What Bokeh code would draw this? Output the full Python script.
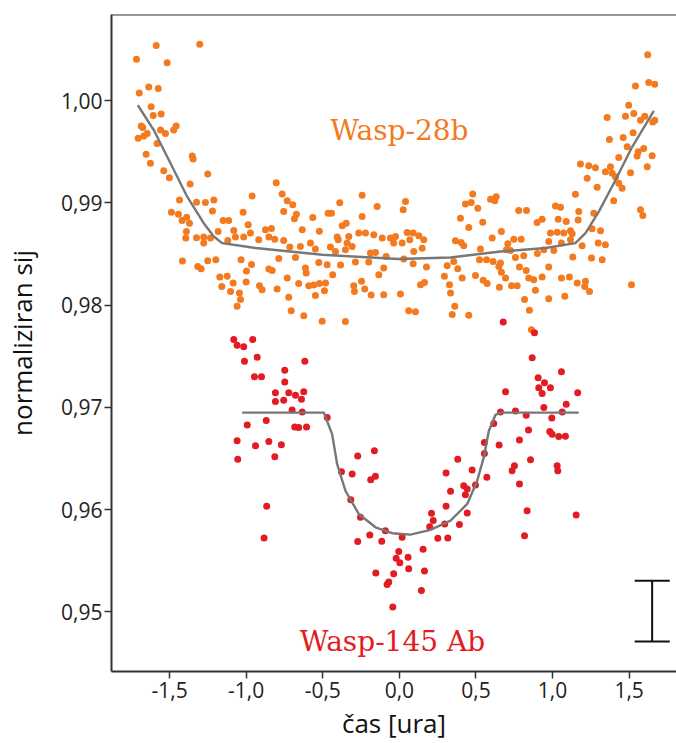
from bokeh.plotting import figure
from bokeh.models import Range1d, FixedTicker, Span, CustomJSTickFormatter, ColumnDataSource
from bokeh.embed import file_html
from bokeh.resources import INLINE
from bokeh.core.properties import value

# ---------------- data ----------------
wasp28_left = [(-1.587,1.00539),(-1.303,1.00549),(-1.716,1.00403),(-1.516,1.00370),(-1.698,1.00074),(-1.636,1.00133),(-1.574,1.00117),(-1.620,0.99938),(-1.607,0.99854),(-1.555,0.99869),(-1.685,0.99752),(-1.675,0.99737),(-1.705,0.99630),(-1.668,0.99652),(-1.646,0.99678),(-1.559,0.99711),(-1.527,0.99678),(-1.473,0.99711),(-1.457,0.99752),(-1.581,0.99581),(-1.653,0.99474),(-1.625,0.99386),(-1.352,0.99457),(-1.346,0.99428),(-1.538,0.99314),(-1.501,0.99246),(-1.251,0.99282),(-1.366,0.99184),(-1.435,0.99028),(-1.324,0.99006),(-1.266,0.99002),(-1.211,0.99028),(-0.961,0.99067),(-1.488,0.98908),(-1.442,0.98889),(-1.388,0.98860),(-1.418,0.98827),(-1.370,0.98801),(-1.220,0.98921),(-1.020,0.98908),(-1.150,0.98827),(-1.114,0.98827),(-0.987,0.98785),(-1.390,0.98719),(-1.394,0.98655),(-1.324,0.98658),(-1.277,0.98665),(-1.233,0.98655),(-1.277,0.98606),(-1.183,0.98719),(-1.081,0.98729),(-1.070,0.98665),(-1.120,0.98632),(-1.016,0.98665),(-0.972,0.98704),(-1.416,0.98431),(-1.316,0.98378),(-1.294,0.98356),(-1.251,0.98434),(-1.198,0.98443),(-1.033,0.98443),(-0.965,0.98398),(-0.998,0.98333),(-1.172,0.98275),(-1.124,0.98281),(-1.159,0.98183),(-1.102,0.98134),(-1.085,0.98216),(-1.000,0.98226),(-1.044,0.98119),(-1.037,0.98054),(-1.059,0.97988)]

wasp28_midleft = [(-0.804,0.99197),(-0.765,0.99087),(-0.732,0.99021),(-0.696,0.98980),(-0.755,0.98914),(-0.672,0.98889),(-0.685,0.98843),(-0.874,0.98736),(-0.835,0.98749),(-0.918,0.98638),(-0.852,0.98665),(-0.813,0.98645),(-0.755,0.98632),(-0.634,0.98736),(-0.565,0.98856),(-0.522,0.98723),(-0.465,0.98899),(-0.443,0.98899),(-0.389,0.99000),(-0.243,0.99074),(-0.145,0.98963),(-0.243,0.98866),(-0.347,0.98801),(-0.373,0.98775),(-0.330,0.98671),(-0.406,0.98665),(-0.399,0.98638),(-0.265,0.98704),(-0.221,0.98704),(-0.167,0.98687),(-0.112,0.98655),(-0.058,0.98655),(-0.037,0.98606),(-0.025,0.98671),(-0.715,0.98567),(-0.646,0.98573),(-0.580,0.98606),(-0.548,0.98548),(-0.450,0.98567),(-0.417,0.98524),(-0.352,0.98541),(-0.308,0.98573),(-0.341,0.98606),(-0.189,0.98509),(-0.156,0.98515),(-0.086,0.98476),(-0.787,0.98456),(-0.678,0.98466),(-0.526,0.98417),(-0.471,0.98395),(-0.384,0.98392),(-0.287,0.98421),(-0.200,0.98421),(-0.852,0.98353),(-0.830,0.98339),(-0.613,0.98363),(-0.608,0.98314),(-0.435,0.98297),(-0.102,0.98363),(-0.134,0.98297),(-0.732,0.98265),(-0.657,0.98210),(-0.591,0.98190),(-0.559,0.98197),(-0.522,0.98210),(-0.482,0.98216),(-0.913,0.98190),(-0.896,0.98151),(-0.798,0.98158),(-0.489,0.98141),(-0.548,0.98093),(-0.298,0.98190),(-0.293,0.98134),(-0.247,0.98232),(-0.226,0.98158),(-0.184,0.98099),(-0.102,0.98102),(-0.722,0.98076),(-0.706,0.97946),(-0.624,0.97897),(-0.504,0.97842),(-0.352,0.97839)]

wasp28_midright = [(0.040,0.99012),(0.025,0.98931),(0.479,0.99087),(0.431,0.98989),(0.469,0.99002),(0.512,0.98947),(0.595,0.99035),(0.632,0.99060),(0.623,0.99019),(0.779,0.98924),(0.830,0.98924),(0.399,0.98850),(0.453,0.98758),(0.544,0.98811),(0.899,0.98807),(0.932,0.98840),(0.666,0.98719),(0.606,0.98655),(0.051,0.98710),(0.090,0.98704),(0.127,0.98677),(0.159,0.98638),(0.018,0.98606),(0.068,0.98638),(0.366,0.98629),(0.403,0.98612),(0.420,0.98580),(0.529,0.98548),(0.708,0.98599),(0.747,0.98645),(0.795,0.98645),(0.725,0.98534),(0.699,0.98541),(0.094,0.98524),(0.149,0.98557),(0.029,0.98450),(0.090,0.98405),(0.177,0.98372),(0.312,0.98385),(0.355,0.98427),(0.523,0.98443),(0.569,0.98443),(0.612,0.98427),(0.660,0.98411),(0.758,0.98466),(0.812,0.98482),(0.901,0.98505),(0.943,0.98541),(0.294,0.98281),(0.381,0.98356),(0.410,0.98265),(0.497,0.98290),(0.547,0.98242),(0.573,0.98210),(0.649,0.98378),(0.666,0.98320),(0.693,0.98265),(0.784,0.98372),(0.828,0.98339),(0.845,0.98265),(0.877,0.98249),(0.932,0.98275),(0.138,0.98200),(0.164,0.98222),(0.327,0.98200),(0.334,0.98119),(0.653,0.98174),(0.732,0.98190),(0.769,0.98190),(0.888,0.98144),(0.007,0.98109),(0.817,0.98054),(0.061,0.97946),(0.105,0.97934),(0.362,0.97988),(0.345,0.97907),(0.453,0.97901),(0.849,0.97949),(0.862,0.97760)]

wasp28_right = [(1.621,1.00448),(1.541,1.00142),(1.628,1.00175),(1.667,1.00159),(1.497,0.99954),(1.356,0.99834),(1.476,0.99847),(1.530,0.99873),(1.574,0.99808),(1.602,0.99847),(1.654,0.99791),(1.667,0.99808),(1.371,0.99620),(1.461,0.99639),(1.526,0.99684),(1.487,0.99548),(1.559,0.99499),(1.595,0.99532),(1.552,0.99457),(1.650,0.99460),(1.432,0.99444),(1.618,0.99353),(1.182,0.99379),(1.236,0.99363),(1.280,0.99343),(1.345,0.99304),(1.378,0.99353),(1.389,0.99288),(1.411,0.99255),(1.509,0.99294),(1.226,0.99240),(1.291,0.99152),(1.432,0.99191),(1.454,0.99142),(1.149,0.99084),(1.399,0.99021),(1.574,0.98931),(1.589,0.98875),(1.019,0.98970),(1.052,0.98957),(1.171,0.98914),(1.269,0.98899),(1.037,0.98840),(1.089,0.98817),(1.167,0.98833),(1.258,0.98746),(1.313,0.98726),(0.986,0.98704),(1.030,0.98713),(1.073,0.98704),(1.117,0.98726),(1.128,0.98697),(0.975,0.98622),(1.058,0.98606),(1.117,0.98638),(1.193,0.98580),(1.298,0.98606),(1.345,0.98590),(1.008,0.98534),(1.132,0.98470),(1.254,0.98460),(1.324,0.98443),(0.975,0.98372),(1.058,0.98265),(1.110,0.98275),(1.161,0.98216),(1.215,0.98232),(1.210,0.98183),(1.241,0.98134),(1.515,0.98200),(0.975,0.98063),(1.080,0.98086)]

wasp145_points = [(-1.081,0.97664),(-1.059,0.97608),(-1.016,0.97593),(-0.957,0.97664),(-0.928,0.97491),(-1.011,0.97452),(-0.617,0.97452),(-0.748,0.97362),(-0.946,0.97300),(-0.900,0.97300),(-0.748,0.97248),(-0.809,0.97144),(-0.722,0.97144),(-0.678,0.97118),(-0.624,0.97154),(-0.809,0.97057),(-0.755,0.97069),(-0.639,0.97079),(-0.700,0.96975),(-0.634,0.96955),(-0.471,0.96901),(-0.993,0.96828),(-0.869,0.96871),(-0.683,0.96809),(-0.657,0.96803),(-0.606,0.96809),(-1.059,0.96673),(-0.939,0.96624),(-0.852,0.96667),(-0.770,0.96634),(-1.055,0.96494),(-0.813,0.96517),(-0.272,0.96526),(-0.163,0.96575),(-0.378,0.96370),(-0.308,0.96348),(-0.187,0.96292),(-0.156,0.96326),(-0.317,0.96097),(-0.866,0.96033),(-0.254,0.95926),(-0.883,0.95724),(-0.193,0.95753),(-0.272,0.95688),(-0.115,0.95692),(-0.091,0.95795),(0.018,0.95731),(-0.004,0.95591),(-0.021,0.95526),(0.003,0.95481),(0.057,0.95536),(0.061,0.95422),(-0.154,0.95380),(-0.037,0.95373),(-0.069,0.95292),(-0.080,0.95269),(-0.043,0.95049),
                  (0.882,0.97729),(0.867,0.97485),(1.058,0.97349),(0.906,0.97290),(0.947,0.97242),(0.910,0.97193),(0.932,0.97137),(0.986,0.97193),(0.693,0.97154),(1.164,0.97144),(1.089,0.97030),(0.943,0.96998),(1.063,0.96955),(0.660,0.96955),(0.758,0.96965),(0.828,0.96923),(0.995,0.96897),(0.616,0.96842),(0.843,0.96780),(0.982,0.96764),(0.997,0.96738),(1.040,0.96715),(1.084,0.96718),(0.784,0.96682),(0.555,0.96657),(0.651,0.96633),(0.555,0.96549),(0.381,0.96494),(0.856,0.96487),(0.475,0.96387),(0.305,0.96358),(0.751,0.96429),(0.736,0.96380),(1.030,0.96429),(1.034,0.96380),(0.571,0.96316),(0.497,0.96241),(0.420,0.96234),(0.443,0.96202),(0.431,0.96146),(0.334,0.96179),(0.784,0.96250),(0.305,0.96033),(0.443,0.95968),(0.210,0.95965),(0.221,0.95893),(0.198,0.95834),(0.296,0.95861),(0.392,0.95854),(0.834,0.95990),(1.154,0.95948),(0.251,0.95721),(0.316,0.95724),(0.817,0.95744),(0.155,0.95614),(0.164,0.95400),(0.144,0.95211),(0.678,0.97836)]

model28_x = [-1.707,-1.603,-1.494,-1.385,-1.277,-1.211,-1.157,-0.939,-0.504,-0.004,0.334,0.660,0.954,1.149,1.215,1.302,1.411,1.520,1.661]
model28_y = [0.99954,0.99711,0.99386,0.99060,0.98801,0.98671,0.98606,0.98558,0.98492,0.98450,0.98466,0.98524,0.98558,0.98606,0.98704,0.98914,0.99223,0.99548,0.99899]

model145_x = [-1.026,-0.493,-0.439,-0.406,-0.352,-0.265,-0.156,-0.047,0.072,0.203,0.334,0.443,0.508,0.551,0.584,0.627,0.660,1.171]
model145_y = [0.96949,0.96949,0.96738,0.96445,0.96185,0.95958,0.95828,0.95770,0.95756,0.95802,0.95893,0.96056,0.96283,0.96511,0.96770,0.96926,0.96949,0.96949]

x_ticks = [-1.5, -1.0, -0.5, 0.0, 0.5, 1.0, 1.5]
y_ticks = [0.95, 0.96, 0.97, 0.98, 0.99, 1.00]

label28 = "Wasp-28b"
label28_pos = (0.0, 0.99711)
label145 = "Wasp-145 Ab"
label145_pos = (-0.045, 0.94711)

scalebar_x = 1.650
scalebar_y = (0.94711, 0.95305)
scalebar_cap = (1.536, 1.765)

x_limits = (-1.879, 1.809)
y_limits = (0.94418, 1.00841)

ORANGE = "#F37A1F"
RED = "#E31B23"
GRAY = "#777777"
AXIS = "#333333"

# ---------------- figure ----------------
p = figure(width=676, height=743, output_backend="svg", toolbar_location=None,
           x_range=Range1d(*x_limits), y_range=Range1d(*y_limits),
           min_border_left=111, min_border_right=0, min_border_top=14, min_border_bottom=70)
p.outline_line_color = None
p.xgrid.visible = False
p.ygrid.visible = False
p.background_fill_color = "white"

o_pts = wasp28_left + wasp28_midleft + wasp28_midright + wasp28_right
src28 = ColumnDataSource(data=dict(x=[a for a, b in o_pts], y=[b for a, b in o_pts]))
src145 = ColumnDataSource(data=dict(x=[a for a, b in wasp145_points], y=[b for a, b in wasp145_points]))

p.scatter("x", "y", source=src28, size=7, fill_color=ORANGE, line_color=None)
p.scatter("x", "y", source=src145, size=7, fill_color=RED, line_color=None)
p.line(model28_x, model28_y, line_color=GRAY, line_width=2.4)
p.line(model145_x, model145_y, line_color=GRAY, line_width=2.4)

p.text(x=[label28_pos[0]], y=[label28_pos[1]], text=[label28], text_color=ORANGE,
       text_font=value("DejaVu Serif"), text_font_size="28px", text_align="center",
       text_baseline="alphabetic")
p.text(x=[label145_pos[0]], y=[label145_pos[1]], text=[label145], text_color=RED,
       text_font=value("DejaVu Serif"), text_font_size="28px", text_align="center",
       text_baseline="alphabetic")

# scale bar
p.segment(x0=[scalebar_x, scalebar_cap[0], scalebar_cap[0]],
          y0=[scalebar_y[0], scalebar_y[0], scalebar_y[1]],
          x1=[scalebar_x, scalebar_cap[1], scalebar_cap[1]],
          y1=[scalebar_y[1], scalebar_y[0], scalebar_y[1]],
          line_color="#111111", line_width=2)

# top border line
p.add_layout(Span(location=y_limits[1], dimension="width", line_color=AXIS, line_width=2))

for ax in (p.xaxis[0], p.yaxis[0]):
    ax.axis_line_color = AXIS
    ax.axis_line_width = 2
    ax.major_tick_line_color = AXIS
    ax.major_tick_line_width = 1.5
    ax.major_tick_out = 7
    ax.major_tick_in = 0
    ax.minor_tick_line_color = None
    ax.major_label_text_font = "Open Sans"
    ax.major_label_text_font_size = "21px"
    ax.major_label_text_color = "#222222"
    ax.axis_label_text_font = "Open Sans"
    ax.axis_label_text_font_size = "26px"
    ax.axis_label_text_font_style = "normal"
    ax.axis_label_text_color = "#111111"

p.xaxis.ticker = FixedTicker(ticks=x_ticks)
p.yaxis.ticker = FixedTicker(ticks=y_ticks)
p.xaxis.formatter = CustomJSTickFormatter(code="return tick.toFixed(1).replace('.', ',');")
p.yaxis.formatter = CustomJSTickFormatter(code="return tick.toFixed(2).replace('.', ',');")
p.xaxis.axis_label = "čas [ura]"
p.yaxis.axis_label = "normaliziran sij"
p.xaxis.major_label_standoff = 3
p.yaxis.major_label_standoff = 2
p.xaxis.axis_label_standoff = 4
p.yaxis.axis_label_standoff = 18

open("out.html", "w").write(file_html(p, INLINE))
